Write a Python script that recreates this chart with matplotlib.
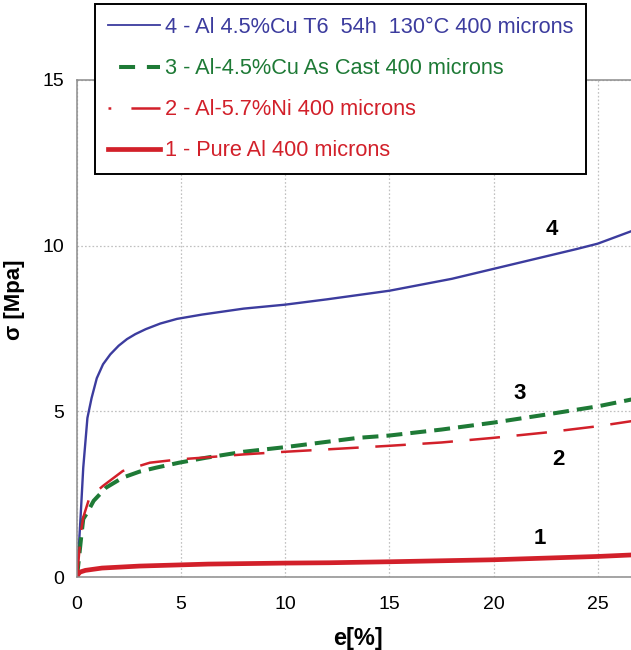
import matplotlib
matplotlib.use("Agg")
import matplotlib.pyplot as plt
from matplotlib.lines import Line2D

plt.rcParams['font.family'] = ['Liberation Sans', 'DejaVu Sans']
plt.rcParams['lines.scale_dashes'] = False

# ---- data ----
e4 = [0, 0.08, 0.18, 0.3, 0.5, 0.7, 0.95, 1.25, 1.6, 2.0, 2.4, 2.8, 3.3, 4.0, 4.8, 6, 8, 10, 12, 15, 18, 20, 22, 24, 25, 26.8]
s4 = [0, 0.8, 1.9, 3.3, 4.8, 5.4, 6.0, 6.42, 6.72, 6.98, 7.18, 7.33, 7.48, 7.65, 7.79, 7.92, 8.1, 8.22, 8.38, 8.64, 9.0, 9.3, 9.6, 9.9, 10.06, 10.48]

e3 = [0, 0.1, 0.2, 0.3, 0.5, 0.8, 1.4, 2.2, 3.0, 3.8, 4.9, 6.2, 8, 10, 12, 13.5, 15, 17.5, 20, 22.5, 25, 26.8]
s3 = [0, 0.6, 1.2, 1.75, 1.95, 2.3, 2.7, 3.0, 3.18, 3.3, 3.45, 3.6, 3.78, 3.92, 4.08, 4.2, 4.27, 4.45, 4.66, 4.9, 5.15, 5.38]

e2 = [0, 0.1, 0.2, 0.3, 0.6, 1.25, 2.2, 3.5, 4.9, 6, 8, 10, 12.8, 15, 17.5, 20, 22.5, 25, 26.8]
s2 = [0, 0.7, 1.4, 1.8, 2.4, 2.75, 3.2, 3.45, 3.55, 3.6, 3.7, 3.78, 3.88, 3.96, 4.06, 4.2, 4.36, 4.55, 4.72]

e1 = [0, 0.05, 0.15, 0.4, 1.2, 3, 6.3, 10, 12.1, 15, 20, 25, 26.8]
s1 = [0, 0.08, 0.15, 0.2, 0.27, 0.33, 0.39, 0.42, 0.43, 0.46, 0.52, 0.62, 0.67]

labels = ["4 - Al 4.5%Cu T6  54h  130°C 400 microns",
          "3 - Al-4.5%Cu As Cast 400 microns",
          "2 - Al-5.7%Ni 400 microns",
          "1 - Pure Al 400 microns"]
curve_tags = ["4", "3", "2", "1"]
tag_pos = [(22.8, 10.5), (21.25, 5.55), (23.1, 3.55), (22.2, 1.15)]

xticks = [0, 5, 10, 15, 20, 25]
yticks = [0, 5, 10, 15]

blue = '#3c3c9e'
green = '#1e7a36'
red = '#d2202a'

fig = plt.figure(figsize=(6.31, 6.5), dpi=100)
ax = fig.add_axes([77/631, 73/650, 554/631, 497/650])

ax.plot(e4, s4, color=blue, lw=1.7, solid_capstyle='butt')
ax.plot(e3, s3, color=green, lw=2.9, linestyle=(0, (11.5, 5.8)))
ax.plot(e2, s2, color=red, lw=1.8, linestyle=(0, (22, 12)))
ax.plot(e1, s1, color=red, lw=3.4)

ax.set_xlim(0, 26.6)
ax.set_ylim(0, 15)
ax.set_xticks(xticks)
ax.set_yticks(yticks)
ax.tick_params(length=0, labelsize=14)
ax.tick_params(axis='x', pad=14)
ax.tick_params(axis='y', pad=9)
ax.grid(True, color='#c0c0c0', linestyle=(0, (1.2, 1.5)), lw=0.9)
for s in ['left', 'bottom', 'top']:
    ax.spines[s].set_color('#8c8c8c')
    ax.spines[s].set_linewidth(1.1)
ax.spines['right'].set_visible(False)

ax.set_xlabel('e[%]', fontsize=17, fontweight='bold', va='center')
ax.xaxis.set_label_coords(0.507, -0.123)
ax.set_ylabel('σ [Mpa]', fontsize=16, fontweight='bold', va='center')
ax.yaxis.set_label_coords(-0.112, 0.557)

for t, (x, y) in zip(curve_tags, tag_pos):
    ax.text(x, y, t, fontsize=16, fontweight='bold', ha='center', va='center')

handles = [
    Line2D([], [], color=blue, lw=1.3),
    Line2D([], [], color=green, lw=2.9, linestyle=(12, (11.5, 8.5))),
    Line2D([], [], color=red, lw=1.8, linestyle=(0, (2.0, 14.5, 22, 4))),
    Line2D([], [], color=red, lw=3.4),
]
text_colors = [blue, green, red, red]
leg = fig.legend(handles, labels, loc='upper left',
                 bbox_to_anchor=(95/631, 1 - 4/650), bbox_transform=fig.transFigure,
                 fontsize=15.7, frameon=True, fancybox=False, framealpha=1,
                 edgecolor='black', handlelength=2.4, handletextpad=0.2,
                 labelspacing=0.92, borderpad=0.6, borderaxespad=0)
leg.get_frame().set_linewidth(1.4)
for txt, c in zip(leg.get_texts(), text_colors):
    txt.set_color(c)

fig.savefig('out.png', dpi=100)
